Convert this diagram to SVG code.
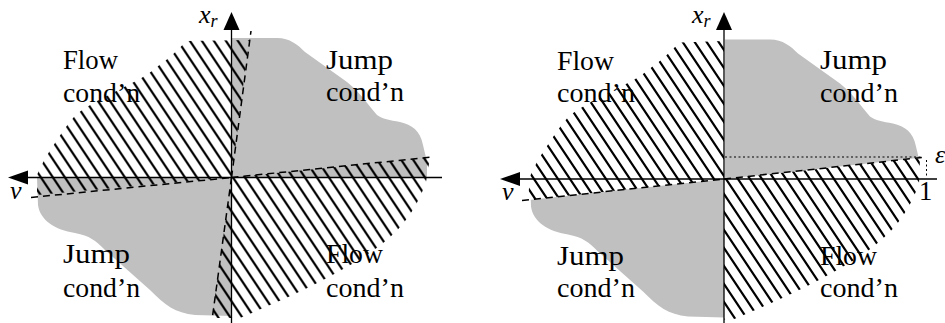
<svg xmlns="http://www.w3.org/2000/svg" width="945" height="323" viewBox="0 0 945 323">
<style>
.grey{fill:#c0c0c0;stroke:none}
.hatch{stroke:none}
.dash{fill:none;stroke:#000;stroke-width:1.5;stroke-dasharray:7 5}
.axis{fill:none;stroke:#000;stroke-width:1.3}
.head{fill:#000;stroke:none}
.lbl{font-size:26.5px;fill:#000}
.it{font-style:italic;font-size:26px;fill:#000}
.dot{fill:none;stroke:#000;stroke-width:1;stroke-dasharray:2 2.5}
</style>
<defs>
<pattern id="hL" patternUnits="userSpaceOnUse" x="233" y="177.5" width="12" height="18">
<path d="M-4,-6 L16,24 M-16,-6 L4,24 M8,-6 L28,24" stroke="#000" stroke-width="2.2"/>
</pattern>
<pattern id="hR" patternUnits="userSpaceOnUse" x="726" y="179" width="12" height="18">
<path d="M-4,-6 L16,24 M-16,-6 L4,24 M8,-6 L28,24" stroke="#000" stroke-width="2.2"/>
</pattern>
<path id="greyTR" d="M232,38 L277,38 C290,38 298,45 305,52 L347,82 C360,92 368,105 377,115 C382,119 390,120 400,122 C412,125 420,130 423,145 L427,162 L427,178 L232,178 Z"/>
<path id="greyBL" d="M231.5,178 L37,178 L38,205 C40,220 55,230 75,233 C90,236 95,240 105,250 L150,290 C165,305 175,313 195,315 L231.5,316 Z"/>
<clipPath id="clipR">
<path d="M724,0 L945,0 L945,155.1 L724,179 L500,203 L500,323 L724,323 Z"/>
</clipPath>
</defs>

<g id="left-diagram">
<g id="left-grey">
<use href="#greyTR" class="grey"/>
<use href="#greyBL" class="grey"/>
</g>
<g id="left-hatch">
<path class="hatch" fill="url(#hL)" d="M231.5,177.5 L37,195 L37,175 C42,163 50,150 57,140 C65,128 72,118 78,113 C88,106 95,102 103,98 C115,92 125,86 136,81 C148,75 155,68 165,61 C173,55 180,47 187,41 L249,40 Z"/>
<path class="hatch" fill="url(#hL)" d="M231.5,177.5 L430,157.5 L426,182 C412,222 388,244 345,268 C305,291 270,305 240,318 L212,318 Z"/>
</g>
<g id="left-boundaries">
<path class="dash" d="M31,197.5 L231.5,177.5"/>
<path class="dash" d="M231.5,177.5 L251,31"/>
<path class="dash" d="M231.5,177.5 L432,157"/>
<path class="dash" d="M231.5,177.5 L212,320"/>
</g>
<g id="left-axes" font-family="Liberation Serif, DejaVu Serif, serif">
<path class="axis" d="M231.5,323 L231.5,28"/>
<path class="head" d="M231.5,12 L239.5,30 L223.5,30 Z"/>
<path class="axis" d="M442,177.5 L26,177.5"/>
<path class="head" d="M8,177.5 L28,170.5 L28,184.5 Z"/>
<text class="it" x="199" y="23">x<tspan font-size="18" dy="4">r</tspan></text>
<text class="it" x="10" y="199">v</text>
</g>
<g id="left-labels" font-family="Liberation Serif, DejaVu Serif, serif">
<text class="lbl" x="63" y="69" textLength="55" lengthAdjust="spacingAndGlyphs">Flow</text>
<text class="lbl" x="63" y="102" textLength="77" lengthAdjust="spacingAndGlyphs">cond’n</text>
<text class="lbl" x="326" y="69" textLength="67" lengthAdjust="spacingAndGlyphs">Jump</text>
<text class="lbl" x="326" y="101" textLength="78" lengthAdjust="spacingAndGlyphs">cond’n</text>
<text class="lbl" x="63" y="263" textLength="67" lengthAdjust="spacingAndGlyphs">Jump</text>
<text class="lbl" x="63" y="297" textLength="77" lengthAdjust="spacingAndGlyphs">cond’n</text>
<text class="lbl" x="326" y="263" textLength="57" lengthAdjust="spacingAndGlyphs">Flow</text>
<text class="lbl" x="326" y="297" textLength="78" lengthAdjust="spacingAndGlyphs">cond’n</text>
</g>
</g>

<g id="right-diagram">
<g id="right-grey" clip-path="url(#clipR)">
<g transform="translate(493,1.5)">
<use href="#greyTR" class="grey"/>
<use href="#greyBL" class="grey"/>
</g>
</g>
<g id="right-hatch">
<path class="hatch" fill="url(#hR)" d="M724,179 L528,200 L530,176.5 C535,164.5 543,151.5 550,141.5 C558,129.5 565,119.5 571,114.5 C581,107.5 588,103.5 596,99.5 C608,93.5 618,87.5 629,82.5 C641,76.5 648,69.5 658,62.5 C666,56.5 673,48.5 680,42.5 L724,41 Z"/>
<path class="hatch" fill="url(#hR)" d="M724,179 L920,158 L919,183.5 C905,223.5 881,245.5 838,269.5 C798,292.5 763,306.5 733,319.5 L724,319.5 Z"/>
</g>
<g id="right-boundaries">
<path class="dash" d="M522,200.5 L724,179"/>
<path class="dash" d="M724,179 L922,157.5"/>
<path class="dot" d="M725,157 L923,157"/>
<path class="dot" d="M926.5,160 L926.5,178"/>
</g>
<g id="right-axes" font-family="Liberation Serif, DejaVu Serif, serif">
<path class="axis" d="M724,323 L724,28"/>
<path class="head" d="M724,12 L732,30 L716,30 Z"/>
<path class="axis" d="M937,179 L520,179"/>
<path class="head" d="M500,179 L520,172 L520,186 Z"/>
<text class="it" x="692" y="23">x<tspan font-size="18" dy="4">r</tspan></text>
<text class="it" x="502" y="200">v</text>
<text class="it" x="935" y="163" font-size="22">ε</text>
<text class="lbl" x="919" y="200">1</text>
</g>
<g id="right-labels" font-family="Liberation Serif, DejaVu Serif, serif">
<text class="lbl" x="557" y="70" textLength="57" lengthAdjust="spacingAndGlyphs">Flow</text>
<text class="lbl" x="557" y="102" textLength="78" lengthAdjust="spacingAndGlyphs">cond’n</text>
<text class="lbl" x="820" y="69" textLength="67" lengthAdjust="spacingAndGlyphs">Jump</text>
<text class="lbl" x="820" y="102" textLength="78" lengthAdjust="spacingAndGlyphs">cond’n</text>
<text class="lbl" x="557" y="265" textLength="67" lengthAdjust="spacingAndGlyphs">Jump</text>
<text class="lbl" x="557" y="297" textLength="78" lengthAdjust="spacingAndGlyphs">cond’n</text>
<text class="lbl" x="820" y="265" textLength="57" lengthAdjust="spacingAndGlyphs">Flow</text>
<text class="lbl" x="820" y="297" textLength="78" lengthAdjust="spacingAndGlyphs">cond’n</text>
</g>
</g>
</svg>
